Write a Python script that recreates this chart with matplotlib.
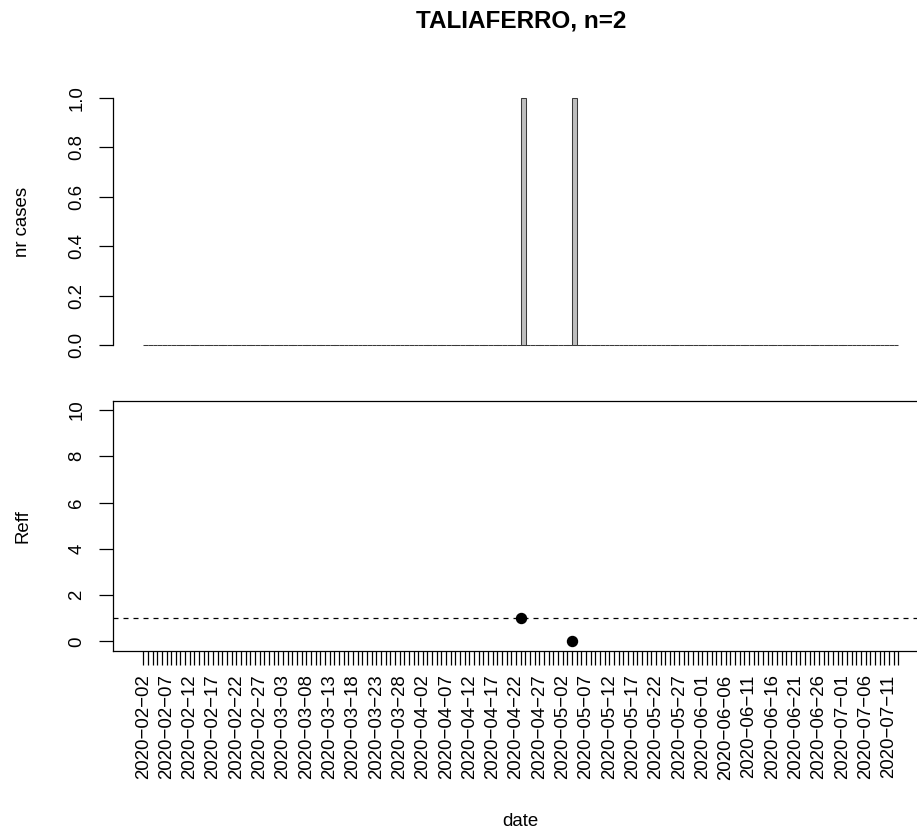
import numpy as np
import pandas as pd
import matplotlib
matplotlib.use("Agg")
from matplotlib import pyplot as plt
import matplotlib.dates as mdates

# data
county = "TALIAFERRO"
onset_dates = ["2020-04-23", "2020-05-04"]
reff_dates = ["2020-04-23", "2020-05-04"]
reff_values = [1.0, 0.0]
first_day = "2020-02-02"
last_day = "2020-07-13"

days = pd.date_range(first_day, last_day)
bar_days = days[:-1]
onsets = pd.to_datetime(onset_dates)
cases = np.array([(onsets == d).sum() for d in bar_days])
tick_labels = [d.strftime("%Y\u2212%m\u2212%d") if i % 5 == 0 else "" for i, d in enumerate(days)]

plt.rcParams["font.family"] = ["Liberation Sans", "DejaVu Sans"]
FS = 13.4

W, H = 917, 838
fig = plt.figure(figsize=(W / 100, H / 100), dpi=100)


def add_axes_px(left, top, right, bottom):
    return fig.add_axes([left / W, 1 - bottom / H, (right - left) / W, (bottom - top) / H])


x0 = mdates.date2num(days[0])
x1 = mdates.date2num(days[-1])
pad = 0.04 * (x1 - x0)

# top panel: daily cases
ax1 = add_axes_px(113, 88.1, 928.4, 354.9)
ax1.bar(bar_days, cases, width=1.05, align="edge", facecolor="#bebebe",
        edgecolor="#3a3a3a", linewidth=0.75)
ax1.set_xlim(x0 - pad, x1 + pad)
ax1.set_ylim(-0.04, 1.04)
for s in ["top", "right", "bottom"]:
    ax1.spines[s].set_visible(False)
ax1.spines["left"].set_bounds(0, 1)
ax1.spines["left"].set_linewidth(0.9)
ax1.set_xticks([])
ax1.set_yticks([0, 0.2, 0.4, 0.6, 0.8, 1.0])
ax1.set_yticklabels(["0.0", "0.2", "0.4", "0.6", "0.8", "1.0"])
ax1.tick_params(axis="y", length=10, width=0.9, labelsize=FS, pad=10)
plt.setp(ax1.get_yticklabels(), rotation=90, va="center")
ax1.set_ylabel("nr cases", fontsize=FS, va="center")
ax1.yaxis.set_label_coords(-0.1104, 0.5)
fig.text(520.7 / W, 1 - 20.7 / H, f"{county}, n={len(onset_dates)}",
         fontsize=17.5, fontweight="bold", ha="center", va="center")

# bottom panel: Reff
ax2 = add_axes_px(113, 400.7, 928.4, 650.7)
ax2.axhline(1, color="black", linewidth=0.9, linestyle=(0, (4, 4)))
ax2.plot(pd.to_datetime(reff_dates), reff_values, "o", color="black", markersize=7.2)
ax2.set_xlim(x0 - pad, x1 + pad)
ax2.set_ylim(-0.4, 10.4)
for s in ax2.spines.values():
    s.set_linewidth(0.9)
ax2.set_yticks([0, 2, 4, 6, 8, 10])
ax2.tick_params(axis="y", length=10, width=0.9, labelsize=FS, pad=10)
plt.setp(ax2.get_yticklabels(), rotation=90, va="center")
ax2.set_xticks(mdates.date2num(days))
ax2.set_xticklabels(tick_labels, rotation=90)
ax2.tick_params(axis="x", length=10, width=0.9, labelsize=FS, pad=7)
ax2.set_ylabel("Reff", fontsize=FS, va="center")
ax2.yaxis.set_label_coords(-0.1104, 0.5)
ax2.set_xlabel("date", fontsize=FS, va="center")
ax2.xaxis.set_label_coords(0.5, -0.685)

fig.savefig("out.png", dpi=100)
